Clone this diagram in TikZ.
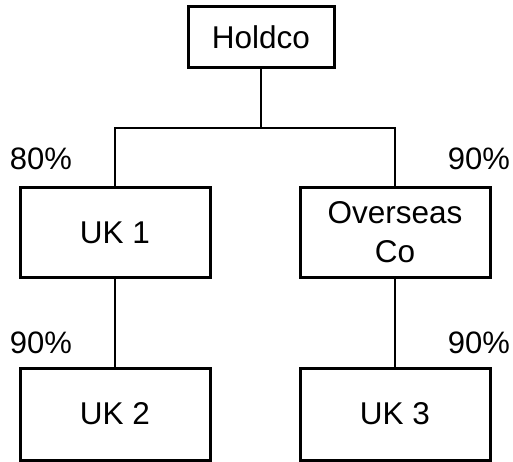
\documentclass[tikz,border=0pt]{standalone}
\usepackage{fontspec}
\setmainfont{Liberation Sans}
\begin{document}
\begin{tikzpicture}[x=1pt,y=-1pt,
  entity/.style={draw, line width=3pt, minimum width=190pt, inner sep=0pt,
     align=center, font=\fontsize{31.5}{39}\selectfont},
  pct/.style={inner sep=0pt, font=\fontsize{31}{36}\selectfont},
  link/.style={line width=1.5pt}]
\useasboundingbox (0,0) rectangle (513,462);
\node[entity, minimum width=146pt, minimum height=61pt] (holdco) at (261,37.5) {Holdco};
\node[entity, minimum height=89pt] (uk1) at (115,232.5) {UK 1};
\node[entity, minimum height=89pt] (ovs) at (395,232.5) {Overseas\\Co};
\node[entity, minimum height=92pt] (uk2) at (115,414) {UK 2};
\node[entity, minimum height=92pt] (uk3) at (395,414) {UK 3};
\coordinate (jm) at (261,128);
\coordinate (jl) at (115,128);
\coordinate (jr) at (395,128);
\draw[link] (holdco.south) -- (jm);
\draw[link] (uk1.north) -- (jl) -- (jr) -- (ovs.north);
\draw[link] (uk1.south) -- (uk2.north);
\draw[link] (ovs.south) -- (uk3.north);
\node[pct] (p1) at (41,159) {80\%};
\node[pct] (p2) at (479,159) {90\%};
\node[pct] (p3) at (41,343) {90\%};
\node[pct] (p4) at (479,343) {90\%};
\end{tikzpicture}
\end{document}
